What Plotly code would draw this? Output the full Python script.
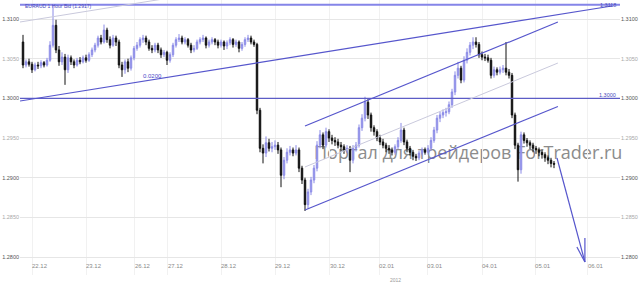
import plotly.graph_objects as go

# ---------------- data (hourly EURAUD bid candles) ----------------
opens = [
    1.3071, 1.3042, 1.3046, 1.3043, 1.3036, 1.3042, 1.3041, 1.3045, 1.3042, 1.3048,
    1.3067, 1.3092, 1.3061, 1.3046, 1.3052, 1.3036, 1.3051, 1.3046, 1.3042, 1.3048,
    1.3046, 1.3051, 1.3048, 1.3055, 1.3061, 1.3067, 1.3076, 1.3071, 1.3086, 1.3074,
    1.3067, 1.3076, 1.3071, 1.3042, 1.3036, 1.3046, 1.3038, 1.3051, 1.3063, 1.3067,
    1.3074, 1.3076, 1.3071, 1.3063, 1.3061, 1.3067, 1.3061, 1.3055, 1.3058, 1.3048,
    1.3055, 1.3067, 1.3074, 1.3076, 1.3071, 1.3074, 1.3067, 1.3061, 1.3063, 1.3071,
    1.3074, 1.3076, 1.3067, 1.3071, 1.3074, 1.3071, 1.3067, 1.3071, 1.3066, 1.3070,
    1.3074, 1.3068, 1.3071, 1.3063, 1.3068, 1.3074, 1.3076, 1.3071, 1.3068, 1.2985,
    1.2937, 1.2931, 1.2944, 1.2937, 1.2939, 1.2941, 1.2935, 1.2903, 1.2922, 1.2932,
    1.2935, 1.2931, 1.2935, 1.2912, 1.2897, 1.2866, 1.2882, 1.2897, 1.2912, 1.2941,
    1.2954, 1.2941, 1.2958, 1.2950, 1.2947, 1.2945, 1.2941, 1.2939, 1.2935, 1.2937,
    1.2922, 1.2937, 1.2941, 1.2963, 1.2975, 1.2995, 1.2979, 1.2963, 1.2958, 1.2950,
    1.2945, 1.2941, 1.2937, 1.2935, 1.2932, 1.2939, 1.2947, 1.2960, 1.2945, 1.2937,
    1.2932, 1.2927, 1.2925, 1.2931, 1.2935, 1.2932, 1.2937, 1.2947, 1.2960, 1.2975,
    1.2979, 1.2982, 1.2983, 1.2992, 1.3008, 1.3029, 1.3038, 1.3023, 1.3048, 1.3058,
    1.3067, 1.3071, 1.3068, 1.3055, 1.3052, 1.3051, 1.3048, 1.3029, 1.3036, 1.3033,
    1.3036, 1.3038, 1.3033, 1.3029, 1.2979, 1.2941, 1.2910, 1.2954, 1.2947, 1.2944,
    1.2941, 1.2937, 1.2935, 1.2932, 1.2929, 1.2925, 1.2922, 1.2918,
]
highs = [
    1.3080, 1.3049, 1.3050, 1.3046, 1.3045, 1.3046, 1.3048, 1.3047, 1.3051, 1.3072,
    1.3118, 1.3099, 1.3066, 1.3058, 1.3056, 1.3055, 1.3054, 1.3049, 1.3051, 1.3052,
    1.3054, 1.3055, 1.3058, 1.3064, 1.3070, 1.3079, 1.3080, 1.3093, 1.3089, 1.3078,
    1.3080, 1.3079, 1.3074, 1.3046, 1.3049, 1.3050, 1.3054, 1.3066, 1.3071, 1.3077,
    1.3080, 1.3079, 1.3074, 1.3067, 1.3070, 1.3070, 1.3064, 1.3061, 1.3060, 1.3058,
    1.3070, 1.3077, 1.3081, 1.3079, 1.3077, 1.3076, 1.3070, 1.3067, 1.3074, 1.3077,
    1.3080, 1.3078, 1.3074, 1.3077, 1.3076, 1.3074, 1.3074, 1.3073, 1.3073, 1.3077,
    1.3076, 1.3074, 1.3073, 1.3071, 1.3077, 1.3080, 1.3079, 1.3074, 1.3070, 1.2988,
    1.2942, 1.2952, 1.2949, 1.2945, 1.2947, 1.2945, 1.2938, 1.2926, 1.2937, 1.2940,
    1.2938, 1.2941, 1.2938, 1.2915, 1.2900, 1.2886, 1.2901, 1.2916, 1.2946, 1.2960,
    1.2957, 1.2963, 1.2961, 1.2954, 1.2951, 1.2949, 1.2945, 1.2942, 1.2941, 1.2940,
    1.2941, 1.2945, 1.2967, 1.2980, 1.3002, 1.2999, 1.2982, 1.2966, 1.2961, 1.2954,
    1.2949, 1.2944, 1.2941, 1.2938, 1.2942, 1.2951, 1.2969, 1.2963, 1.2948, 1.2940,
    1.2935, 1.2930, 1.2934, 1.2938, 1.2938, 1.2941, 1.2951, 1.2964, 1.2979, 1.2983,
    1.2986, 1.2988, 1.2996, 1.3012, 1.3034, 1.3046, 1.3041, 1.3053, 1.3063, 1.3071,
    1.3077, 1.3077, 1.3071, 1.3059, 1.3056, 1.3055, 1.3051, 1.3040, 1.3039, 1.3040,
    1.3042, 1.3071, 1.3037, 1.3032, 1.2982, 1.2944, 1.2958, 1.2957, 1.2950, 1.2947,
    1.2944, 1.2940, 1.2938, 1.2935, 1.2932, 1.2928, 1.2925, 1.2921,
]
lows = [
    1.3038, 1.3039, 1.3040, 1.3032, 1.3034, 1.3037, 1.3038, 1.3039, 1.3040, 1.3046,
    1.3064, 1.3057, 1.3041, 1.3042, 1.3017, 1.3032, 1.3042, 1.3038, 1.3040, 1.3043,
    1.3044, 1.3045, 1.3046, 1.3052, 1.3058, 1.3064, 1.3068, 1.3069, 1.3070, 1.3063,
    1.3065, 1.3066, 1.3038, 1.3027, 1.3031, 1.3033, 1.3035, 1.3048, 1.3060, 1.3064,
    1.3070, 1.3067, 1.3060, 1.3057, 1.3058, 1.3057, 1.3051, 1.3052, 1.3042, 1.3045,
    1.3052, 1.3064, 1.3071, 1.3068, 1.3068, 1.3064, 1.3057, 1.3058, 1.3061, 1.3068,
    1.3071, 1.3063, 1.3064, 1.3068, 1.3067, 1.3063, 1.3064, 1.3061, 1.3062, 1.3067,
    1.3064, 1.3065, 1.3058, 1.3060, 1.3065, 1.3071, 1.3068, 1.3065, 1.2980, 1.2932,
    1.2918, 1.2926, 1.2933, 1.2932, 1.2935, 1.2930, 1.2888, 1.2898, 1.2918, 1.2928,
    1.2927, 1.2928, 1.2907, 1.2892, 1.2858, 1.2861, 1.2878, 1.2893, 1.2908, 1.2937,
    1.2936, 1.2938, 1.2945, 1.2942, 1.2940, 1.2937, 1.2934, 1.2930, 1.2931, 1.2907,
    1.2918, 1.2933, 1.2938, 1.2959, 1.2971, 1.2974, 1.2958, 1.2953, 1.2946, 1.2941,
    1.2937, 1.2932, 1.2930, 1.2928, 1.2929, 1.2936, 1.2944, 1.2941, 1.2932, 1.2928,
    1.2922, 1.2921, 1.2922, 1.2928, 1.2929, 1.2929, 1.2934, 1.2944, 1.2956, 1.2970,
    1.2975, 1.2977, 1.2980, 1.2988, 1.3004, 1.3025, 1.3019, 1.3020, 1.3044, 1.3054,
    1.3062, 1.3064, 1.3051, 1.3048, 1.3047, 1.3045, 1.3025, 1.3026, 1.3029, 1.3030,
    1.3032, 1.3029, 1.3025, 1.2975, 1.2936, 1.2895, 1.2905, 1.2943, 1.2939, 1.2936,
    1.2932, 1.2930, 1.2927, 1.2924, 1.2920, 1.2917, 1.2913, 1.2912,
]
closes = [
    1.3042, 1.3046, 1.3043, 1.3036, 1.3042, 1.3041, 1.3045, 1.3042, 1.3048, 1.3067,
    1.3092, 1.3061, 1.3046, 1.3052, 1.3036, 1.3051, 1.3046, 1.3042, 1.3048, 1.3046,
    1.3051, 1.3048, 1.3055, 1.3061, 1.3067, 1.3076, 1.3071, 1.3086, 1.3074, 1.3067,
    1.3076, 1.3071, 1.3042, 1.3036, 1.3046, 1.3038, 1.3051, 1.3063, 1.3067, 1.3074,
    1.3076, 1.3071, 1.3063, 1.3061, 1.3067, 1.3061, 1.3055, 1.3058, 1.3048, 1.3055,
    1.3067, 1.3074, 1.3076, 1.3071, 1.3074, 1.3067, 1.3061, 1.3063, 1.3071, 1.3074,
    1.3076, 1.3067, 1.3071, 1.3074, 1.3071, 1.3067, 1.3071, 1.3066, 1.3070, 1.3074,
    1.3068, 1.3071, 1.3063, 1.3068, 1.3074, 1.3076, 1.3071, 1.3068, 1.2985, 1.2937,
    1.2931, 1.2944, 1.2937, 1.2939, 1.2941, 1.2935, 1.2903, 1.2922, 1.2932, 1.2935,
    1.2931, 1.2935, 1.2912, 1.2897, 1.2866, 1.2882, 1.2897, 1.2912, 1.2941, 1.2954,
    1.2941, 1.2958, 1.2950, 1.2947, 1.2945, 1.2941, 1.2939, 1.2935, 1.2937, 1.2922,
    1.2937, 1.2941, 1.2963, 1.2975, 1.2995, 1.2979, 1.2963, 1.2958, 1.2950, 1.2945,
    1.2941, 1.2937, 1.2935, 1.2932, 1.2939, 1.2947, 1.2960, 1.2945, 1.2937, 1.2932,
    1.2927, 1.2925, 1.2931, 1.2935, 1.2932, 1.2937, 1.2947, 1.2960, 1.2975, 1.2979,
    1.2982, 1.2983, 1.2992, 1.3008, 1.3029, 1.3038, 1.3023, 1.3048, 1.3058, 1.3067,
    1.3071, 1.3068, 1.3055, 1.3052, 1.3051, 1.3048, 1.3029, 1.3036, 1.3033, 1.3036,
    1.3038, 1.3033, 1.3029, 1.2979, 1.2941, 1.2910, 1.2954, 1.2947, 1.2944, 1.2941,
    1.2937, 1.2935, 1.2932, 1.2929, 1.2925, 1.2922, 1.2918, 1.2917,
]

day_labels = ["22.12", "23.12", "26.12", "27.12", "28.12", "29.12",
              "30.12", "02.01", "03.01", "04.01", "05.01", "06.01"]
day_start_bar = [3, 21, 37.3, 48.3, 66, 84, 102.3, 118.7, 134.7, 153, 170.7, 188.3]
year_label = "2012"

price_ticks = [1.2800, 1.2850, 1.2900, 1.2950, 1.3000, 1.3050, 1.3100]

last_bid = 1.2917
level_high = 1.3118
level_round = 1.3000
channel_width_label = "0.0200"

# trend lines: (bar index pair, price pair)
trend_main_x, trend_main_y = [-1, 196.3], [1.29966, 1.31164]
trend_par_x, trend_par_y = [-1, 59], [1.30962, 1.31327]
chan_up_x, chan_up_y = [94, 178.3], [1.29651, 1.30962]
chan_mid_x, chan_mid_y = [94, 178.3], [1.29135, 1.30445]
chan_low_x, chan_low_y = [94, 178.3], [1.28592, 1.29897]
arrow_x, arrow_y = [178, 187.3], [1.29248, 1.27937]
label_0200_x, label_0200_y = 43.3, 1.30282

bar_index = list(range(len(closes)))

# ---------------- figure ----------------
BLUE = "#5656cc"
PALE = "#c9c9dc"
FONT = "Liberation Sans"

fig = go.Figure()
fig.add_trace(go.Candlestick(
    x=bar_index, open=opens, high=highs, low=lows, close=closes,
    increasing=dict(line=dict(color="#8a8ae6", width=1), fillcolor="#a9a9f2"),
    decreasing=dict(line=dict(color="#111111", width=1), fillcolor="#000000"),
    whiskerwidth=0, hoverinfo="skip", showlegend=False,
))
# invisible trace so the right price axis is drawn
fig.add_trace(go.Scatter(x=[bar_index[-1]], y=[closes[-1]], yaxis="y2",
                         mode="markers", marker=dict(opacity=0),
                         hoverinfo="skip", showlegend=False))

def line(x, y, color, width):
    return dict(type="line", xref="x", yref="y", x0=x[0], x1=x[1],
                y0=y[0], y1=y[1], line=dict(color=color, width=width))

shapes = [
    dict(type="line", xref="paper", yref="y", x0=0, x1=1, y0=level_high, y1=level_high,
         line=dict(color="#8585e8", width=2)),
    dict(type="line", xref="paper", yref="y", x0=0, x1=1, y0=level_round, y1=level_round,
         line=dict(color="#5c5cc6", width=1.2)),
    line(trend_par_x, trend_par_y, PALE, 1),
    line(trend_main_x, trend_main_y, BLUE, 1.2),
    line(chan_up_x, chan_up_y, BLUE, 1.2),
    line(chan_mid_x, chan_mid_y, PALE, 1),
    line(chan_low_x, chan_low_y, BLUE, 1.2),
    line(arrow_x, arrow_y, BLUE, 1.2),
    # arrow head (pixel strokes from the tip)
    dict(type="line", xref="x", yref="y", xsizemode="pixel", ysizemode="pixel",
         xanchor=arrow_x[1], yanchor=arrow_y[1], x0=0, y0=0, x1=0, y1=24,
         line=dict(color=BLUE, width=1.2)),
    dict(type="line", xref="x", yref="y", xsizemode="pixel", ysizemode="pixel",
         xanchor=arrow_x[1], yanchor=arrow_y[1], x0=0, y0=0, x1=-8, y1=15,
         line=dict(color=BLUE, width=1.2)),
    # watermark, drawn beneath the candles
    dict(type="rect", xref="paper", yref="paper", x0=0.485, x1=1.03, y0=0.40, y1=0.49,
         layer="below", line=dict(width=0), fillcolor="rgba(0,0,0,0)",
         label=dict(text="Портал для трейдеров ForTrader.ru", textposition="middle left",
                    padding=0, font=dict(family="Open Sans", size=18, color="#8c8c8c"))),
]

def fmt_tick(v):
    major = abs(round(v * 1000) % 10) == 0
    color = "#555555" if major else "#a8a8a8"
    return f"<span style='color:{color}'>{v:.4f}</span>"

tick_text = [fmt_tick(v) for v in price_ticks]
y_range = [1.277731, 1.312395]

annotations = [
    dict(xref="paper", yref="paper", x=0.005, y=1, yshift=-1, xanchor="left", yanchor="top",
         text=f"EURAUD 1 Hour Bid ({last_bid:.4f})", showarrow=False,
         font=dict(family=FONT, size=5, color="#4848bb")),
    dict(xref="paper", yref="y", x=1, y=level_high, xanchor="right", yanchor="middle",
         xshift=-2, text=f"{level_high:.4f}", showarrow=False,
         font=dict(family=FONT, size=5.5, color="#4848bb")),
    dict(xref="paper", yref="y", x=1, y=level_round, xanchor="right", yanchor="bottom",
         xshift=-2, yshift=-2, text=f"{level_round:.4f}", showarrow=False,
         font=dict(family=FONT, size=5.5, color="#4848bb")),
    dict(xref="x", yref="y", x=label_0200_x, y=label_0200_y, text=channel_width_label,
         showarrow=False, font=dict(family=FONT, size=6, color="#4a4ac8")),
    dict(xref="paper", yref="paper", x=0.625, y=0, yshift=-5, xanchor="center", yanchor="middle",
         text=year_label, showarrow=False, font=dict(family=FONT, size=5, color="#999999")),
]

fig.update_layout(
    width=642, height=284,
    margin=dict(l=20, r=22, t=0, b=9),
    paper_bgcolor="white", plot_bgcolor="white",
    showlegend=False,
    shapes=shapes, annotations=annotations,
    xaxis=dict(range=[-1, 199], tickvals=day_start_bar, ticktext=day_labels,
               ticklabelposition="inside right", ticks="", showgrid=True,
               gridcolor="#f1f1f1", gridwidth=1, zeroline=False, showline=False,
               rangeslider=dict(visible=False), automargin=False,
               tickfont=dict(family=FONT, size=6, color="#8a8a8a")),
    yaxis=dict(range=y_range, tickvals=price_ticks, ticktext=tick_text, ticks="",
               showgrid=True, gridcolor="#e6e6e6", zeroline=False, showline=False,
               automargin=False, side="left",
               tickfont=dict(family=FONT, size=5.5, color="#555555")),
    yaxis2=dict(range=y_range, tickvals=price_ticks, ticktext=tick_text, ticks="",
                overlaying="y", side="right", showgrid=False, zeroline=False,
                showline=False, automargin=False,
                tickfont=dict(family=FONT, size=5.5, color="#555555")),
)

fig.write_html("out.html")
